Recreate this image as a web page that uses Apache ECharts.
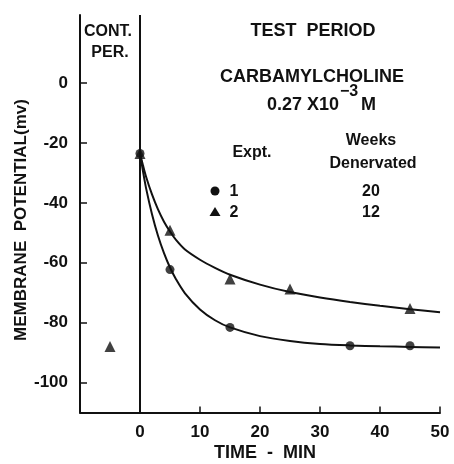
<!DOCTYPE html>
<html>
<head>
<meta charset="utf-8">
<script src="https://cdn.jsdelivr.net/npm/echarts@6/dist/echarts.min.js"></script>
<style>
html,body{margin:0;padding:0;background:#fff;}
#chart{width:454px;height:464px;}
</style>
</head>
<body>
<div id="chart"></div>
<script>
// Data
var xTicks = [0, 10, 20, 30, 40, 50];
var yTicks = [0, -20, -40, -60, -80, -100];

var expt1Points = [[0, -23.5], [5, -62.3], [15, -81.6], [35, -87.7], [45, -87.7]];
var expt2Points = [[-5, -88], [0, -23.5], [5, -49.2], [15, -65.4], [25, -68.8], [45, -75.3]];

var expt1Curve = [[0, -23.5], [0.5, -29.5], [1, -35], [2, -43.8], [3, -51], [4, -56.8], [5, -61.6], [6, -65.5],
  [7.5, -70.2], [10, -75.6], [12.5, -79.2], [15, -81.6], [20, -84.5], [25, -86.1], [30, -87.1], [35, -87.6],
  [40, -87.9], [45, -88.1], [50, -88.3]];
var expt2Curve = [[0, -23.5], [0.5, -27.5], [1, -31.2], [2, -37.2], [3, -42.2], [4, -46.3], [5, -49.6], [6, -52.4],
  [7.5, -55.6], [10, -59], [12.5, -61.7], [15, -64], [20, -67.3], [25, -69.8], [30, -71.6], [35, -73.1],
  [40, -74.4], [45, -75.5], [50, -76.5]];

var chart = echarts.init(document.getElementById('chart'));
var FONT = 'Liberation Sans';
var W = 'bold ';
var ink = '#111';

function txt(x, y, s, size, align, extra) {
  var o = {type: 'text', x: x, y: y, style: {text: s, font: W + size + 'px "' + FONT + '"', fill: ink, align: align || 'center', verticalAlign: 'middle'}};
  if (extra) for (var k in extra) o[k] = extra[k];
  return o;
}

var option = {
  backgroundColor: '#fff',
  animation: false,
  grid: {left: 80, right: 14, top: 15, bottom: 51.5},
  xAxis: {
    type: 'value', min: -10, max: 50,
    axisLine: {show: true, onZero: false, lineStyle: {color: ink, width: 2}},
    axisTick: {show: true, inside: true, length: 6, customValues: xTicks, lineStyle: {color: ink, width: 1.5}},
    axisLabel: {customValues: xTicks, color: ink, fontFamily: FONT, fontWeight: 'bold', fontSize: 17, margin: 11},
    splitLine: {show: false}
  },
  yAxis: {
    type: 'value', min: -110, max: 22.7,
    axisLine: {show: true, onZero: false, lineStyle: {color: ink, width: 2}},
    axisTick: {show: true, inside: true, length: 7, customValues: yTicks, lineStyle: {color: ink, width: 1.5}},
    axisLabel: {customValues: yTicks, color: ink, fontFamily: FONT, fontWeight: 'bold', fontSize: 17, margin: 12},
    splitLine: {show: false}
  },
  series: [
    {
      type: 'line', data: expt1Curve, smooth: 0.3, symbol: 'none',
      lineStyle: {color: ink, width: 2},
      markLine: {
        silent: true, symbol: 'none', label: {show: false},
        lineStyle: {color: ink, width: 2, type: 'solid'},
        data: [{xAxis: 0}]
      }
    },
    {
      type: 'line', data: expt2Curve, smooth: 0.3, symbol: 'none',
      lineStyle: {color: ink, width: 2}
    },
    {
      type: 'scatter', data: expt1Points, symbol: 'circle', symbolSize: 9,
      itemStyle: {color: ink}
    },
    {
      type: 'scatter', data: expt2Points, symbol: 'triangle', symbolSize: 11,
      itemStyle: {color: ink}
    }
  ],
  graphic: [
    txt(108, 32, 'CONT.', 16),
    txt(110, 53, 'PER.', 16),
    txt(313, 31, 'TEST  PERIOD', 18),
    txt(312, 77, 'CARBAMYLCHOLINE', 18),
    txt(339, 105, '0.27 X10', 18, 'right'),
    txt(340, 92, '−3', 16, 'left'),
    txt(361, 105, 'M', 18, 'left'),
    txt(252, 153, 'Expt.', 16),
    txt(371, 141, 'Weeks', 16),
    txt(373, 164, 'Denervated', 16),
    {type: 'circle', shape: {cx: 215, cy: 191, r: 4.5}, style: {fill: ink}},
    {type: 'polygon', shape: {points: [[215, 207], [209.5, 216], [220.5, 216]]}, style: {fill: ink}},
    txt(234, 192, '1', 16),
    txt(234, 213, '2', 16),
    txt(371, 192, '20', 16),
    txt(371, 213, '12', 16),
    txt(265, 453, 'TIME  -  MIN', 18),
    txt(21, 220, 'MEMBRANE  POTENTIAL(mv)', 17, 'center', {rotation: Math.PI / 2})
  ]
};
chart.setOption(option);
</script>
</body>
</html>
